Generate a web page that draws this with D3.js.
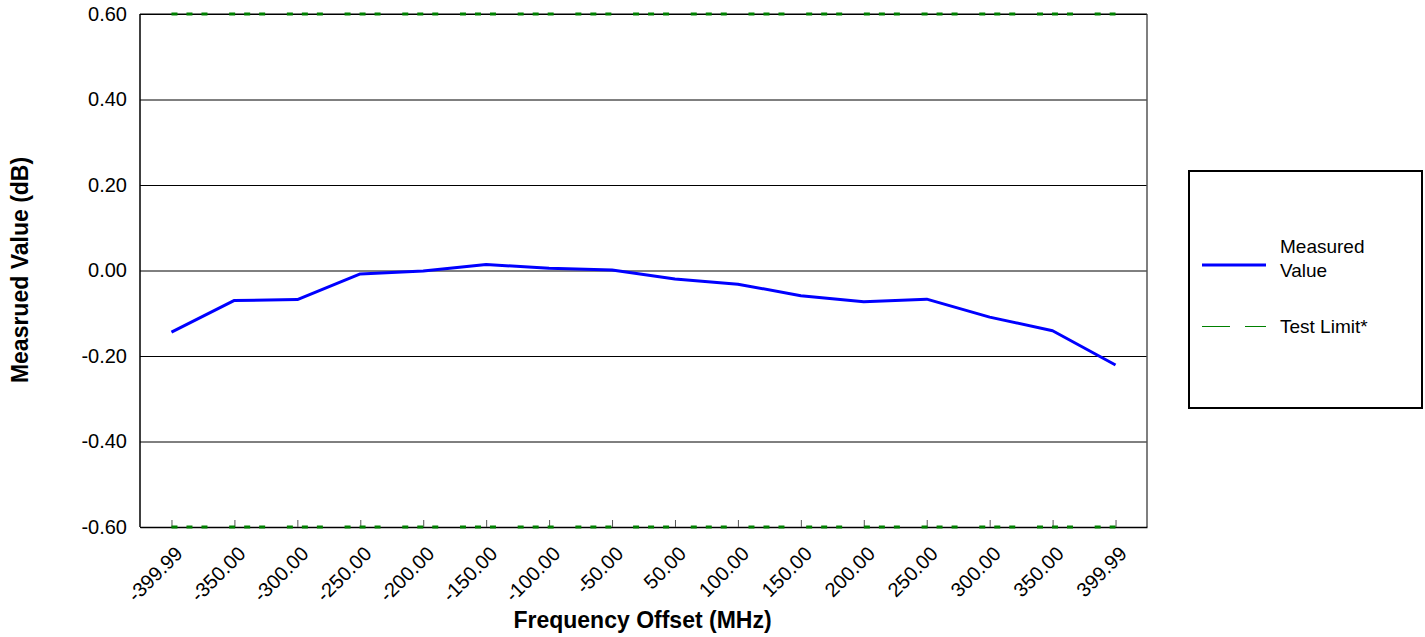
<!DOCTYPE html>
<html>
<head>
<meta charset="utf-8">
<script src="https://cdn.jsdelivr.net/npm/d3@7"></script>
<style>
  html, body { margin: 0; padding: 0; background: #fff; }
  svg { display: block; font-family: "Liberation Sans", Arial, sans-serif; }
</style>
</head>
<body>
<svg id="chart" width="1425" height="637"></svg>
<script>
const categories = ["-399.99","-350.00","-300.00","-250.00","-200.00","-150.00","-100.00","-50.00",
                    "50.00","100.00","150.00","200.00","250.00","300.00","350.00","399.99"];
const measured = [-0.144,-0.070,-0.068,-0.008,-0.001,0.014,0.005,0.001,
                  -0.020,-0.032,-0.059,-0.073,-0.067,-0.109,-0.141,-0.221];
const upperLimit = [0.6,0.6,0.6,0.6,0.6,0.6,0.6,0.6,0.6,0.6,0.6,0.6,0.6,0.6,0.6,0.6];
const lowerLimit = [-0.6,-0.6,-0.6,-0.6,-0.6,-0.6,-0.6,-0.6,-0.6,-0.6,-0.6,-0.6,-0.6,-0.6,-0.6,-0.6];
const yTicks = [-0.6,-0.4,-0.2,0,0.2,0.4,0.6];
const legendLabels = [["Measured","Value"],["Test Limit*"]];

const svg = d3.select("#chart");
const L = 140, R = 1147, T = 14, B = 527;

const x = d3.scalePoint().domain(categories).range([L, R]).padding(0.5);
const y = d3.scaleLinear().domain([-0.6, 0.6]).range([B, T]);

// gridlines
svg.append("g")
  .attr("transform", `translate(${L},0)`)
  .call(d3.axisLeft(y).tickValues(yTicks).tickSize(-(R - L)).tickFormat(""))
  .call(g => g.select(".domain").remove())
  .call(g => g.selectAll("line").attr("stroke", "#000").attr("stroke-width", 1));

// y axis labels
svg.append("g")
  .attr("transform", `translate(${L},0)`)
  .call(d3.axisLeft(y).tickValues(yTicks).tickSize(0).tickPadding(13).tickFormat(d => d.toFixed(2)))
  .call(g => g.select(".domain").remove())
  .call(g => g.selectAll("text").attr("font-size", 20).attr("fill", "#000")
        .attr("font-family", "Liberation Sans, Arial, sans-serif"));

// frame
svg.append("line").attr("x1", L).attr("x2", L).attr("y1", T).attr("y2", B).attr("stroke", "#000").attr("stroke-width", 1.5);
svg.append("line").attr("x1", R).attr("x2", R).attr("y1", T).attr("y2", B).attr("stroke", "#555").attr("stroke-width", 1.5);
svg.append("line").attr("x1", L).attr("x2", R).attr("y1", T).attr("y2", T).attr("stroke", "#000").attr("stroke-width", 1);

// x axis
const xg = svg.append("g")
  .attr("transform", `translate(0,${B})`)
  .call(d3.axisBottom(x).tickSize(-7).tickSizeOuter(0));
xg.select(".domain").attr("stroke", "#000").attr("stroke-width", 1.5);
xg.selectAll(".tick line").attr("stroke", "#555").attr("stroke-width", 1);
xg.selectAll(".tick text")
  .attr("font-size", 20)
  .attr("font-family", "Liberation Sans, Arial, sans-serif")
  .attr("fill", "#000")
  .attr("text-anchor", "end")
  .attr("y", 0).attr("dy", 0)
  .attr("transform", "translate(12,28) rotate(-45)");

// test limits
const dash = "6,9,6,9,6,21.7";
const limLine = d3.line().x((d, i) => x(categories[i])).y(d => y(d));
[upperLimit, lowerLimit].forEach(arr => {
  svg.append("path").datum(arr)
    .attr("d", limLine)
    .attr("fill", "none")
    .attr("stroke", "#008000")
    .attr("stroke-width", 3)
    .attr("stroke-dasharray", dash);
});

// measured
svg.append("path").datum(measured)
  .attr("d", d3.line().x((d, i) => x(categories[i])).y(d => y(d)))
  .attr("fill", "none")
  .attr("stroke", "#0000ff")
  .attr("stroke-width", 3)
  .attr("stroke-linejoin", "round");

// titles
svg.append("text")
  .attr("x", (L + R) / 2 - 1).attr("y", 628)
  .attr("text-anchor", "middle")
  .attr("font-size", 23).attr("font-weight", "bold")
  .text("Frequency Offset (MHz)");
svg.append("text")
  .attr("transform", "translate(28,270) rotate(-90)")
  .attr("text-anchor", "middle")
  .attr("font-size", 23).attr("font-weight", "bold")
  .text("Measrued Value (dB)");

// legend
const lg = svg.append("g");
lg.append("rect").attr("x", 1189).attr("y", 171).attr("width", 233).attr("height", 237)
  .attr("fill", "#fff").attr("stroke", "#000").attr("stroke-width", 2);
lg.append("line").attr("x1", 1202).attr("x2", 1266).attr("y1", 265).attr("y2", 265)
  .attr("stroke", "#0000ff").attr("stroke-width", 3);
lg.append("text").attr("x", 1280).attr("y", 253).attr("font-size", 19).text(legendLabels[0][0]);
lg.append("text").attr("x", 1280).attr("y", 277).attr("font-size", 19).text(legendLabels[0][1]);
lg.append("line").attr("x1", 1202).attr("x2", 1266).attr("y1", 326.5).attr("y2", 326.5)
  .attr("stroke", "#008000").attr("stroke-width", 1).attr("stroke-dasharray", "28,15");
lg.append("text").attr("x", 1280).attr("y", 333).attr("font-size", 19).text(legendLabels[1][0]);
</script>
</body>
</html>
